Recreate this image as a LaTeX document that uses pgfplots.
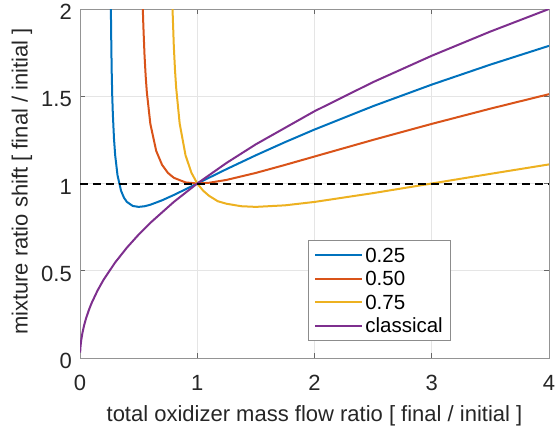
\documentclass[border=0pt]{standalone}
\usepackage{pgfplots}
\pgfplotsset{compat=1.18}
\usepackage{fontspec}
\setmainfont{Liberation Sans}
\definecolor{mblue}{rgb}{0,0.447,0.741}
\definecolor{mred}{rgb}{0.85,0.325,0.098}
\definecolor{myellow}{rgb}{0.929,0.694,0.125}
\definecolor{mpurple}{rgb}{0.494,0.184,0.556}
\begin{document}
\begin{tikzpicture}
\begin{axis}[
  name=main,
  scale only axis,
  width=469pt, height=349pt,
  xmin=0, xmax=4, ymin=0, ymax=2,
  xtick={0,1,2,3,4}, ytick={0,0.5,1,1.5,2},
  yticklabels={0,0.5,1,1.5,2},
  xticklabels={0,1,2,3,4},
  grid=major,
  major grid style={line width=0.6pt, draw=black!10},
  axis line style={draw=black!42, line width=0.8pt},
  tick style={draw=black!60, line width=0.8pt},
  major tick length=5pt,
  tick align=inside,
  ticklabel style={font=\fontsize{22}{26}\selectfont, text=black!85, inner sep=0pt},
  xticklabel style={anchor=base, yshift=-32pt},
  yticklabel style={anchor=east, xshift=-8pt, yshift=-3pt},
  label style={font=\fontsize{22}{26}\selectfont, text=black!85, inner sep=0pt},
  xlabel={total oxidizer mass flow ratio [ final / initial ]},
  ylabel={mixture ratio shift [ final / initial ]},
  xlabel style={at={(axis description cs:0.5,0)}, anchor=base, yshift=-63pt},
  ylabel style={at={(axis description cs:0,0.5)}, anchor=center, yshift=58pt, xshift=2pt},
  clip mode=global,
  legend cell align=left,
  legend style={at={(0.486,0.0487)}, anchor=south west, draw=black!45, line width=0.8pt,
    font=\fontsize{20.5}{24}\selectfont, row sep=3.4pt, column sep=0pt,
    inner xsep=6pt, inner ysep=5pt,
    nodes={inner xsep=2pt, inner ysep=0pt, text height=17pt, text depth=3pt}},
  legend image code/.code={\draw[#1, line width=2pt] (0pt,0pt) -- (47pt,0pt);},
]
\addplot[mblue, line width=2pt] coordinates {
(0.26,2.252) (0.265,1.895) (0.27,1.653) (0.275,1.502) (0.28,1.400) (0.29,1.256) (0.30,1.162)
(0.32,1.047) (0.35,0.9585) (0.375,0.9186) (0.4,0.8944) (0.45,0.8714) (0.5,0.8660)
(0.55,0.8696) (0.6,0.8783) (0.7,0.9037) (0.8,0.9342) (0.9,0.9667) (1.0,1.0)
(1.25,1.0825) (1.5,1.1619) (1.75,1.2374) (2,1.3093) (2.5,1.4434) (3,1.5667) (3.5,1.6813) (4,1.7889)
};
\addlegendentry{0.25}
\addplot[mred, line width=2pt] coordinates {
(0.53,2.1637) (0.535,2.016) (0.54,1.9092) (0.55,1.7393) (0.56,1.6166) (0.57,1.5234) (0.6,1.3416)
(0.65,1.1867) (0.7,1.1068) (0.75,1.0607) (0.8,1.0328) (0.9,1.0062) (1.0,1.0) (1.1,1.0042)
(1.25,1.0206) (1.5,1.0607) (1.75,1.1068) (2,1.1547) (2.5,1.25) (3,1.3416) (3.5,1.4289) (4,1.5119)
};
\addlegendentry{0.50}
\addplot[myellow, line width=2pt] coordinates {
(0.785,2.098) (0.79,1.982) (0.8,1.7889) (0.81,1.6533) (0.82,1.5496) (0.85,1.3440) (0.9,1.1619)
(0.95,1.0621) (1,1.0) (1.05,0.9592) (1.1,0.9297) (1.175,0.8985) (1.25,0.8839) (1.375,0.8698) (1.5,0.8660) (1.75,0.875) (2,0.8944)
(2.5,0.9449) (3,1.0) (3.5,1.0553) (4,1.1094)
};
\addlegendentry{0.75}
\addplot[mpurple, line width=2pt] coordinates {
(0.001,0.0316) (0.005,0.0707) (0.01,0.1) (0.02,0.1414) (0.035,0.1871) (0.05,0.2236) (0.075,0.2739)
(0.1,0.3162) (0.15,0.3873) (0.2,0.4472) (0.3,0.5477) (0.4,0.6325) (0.5,0.7071) (0.6,0.7746)
(0.8,0.8944) (1,1) (1.25,1.1180) (1.5,1.2247) (2,1.4142) (2.5,1.5811) (3,1.7321) (3.5,1.8708) (4,2)
};
\addlegendentry{classical}
\addplot[black, line width=2pt, dash pattern=on 8pt off 5pt, forget plot] coordinates {(0,1) (4,1)};
\end{axis}
\pgfresetboundingbox
\path[use as bounding box] ([shift={(-80pt,-71pt)}]main.south west) rectangle ([shift={(6pt,9pt)}]main.north east);
\end{tikzpicture}
\end{document}
